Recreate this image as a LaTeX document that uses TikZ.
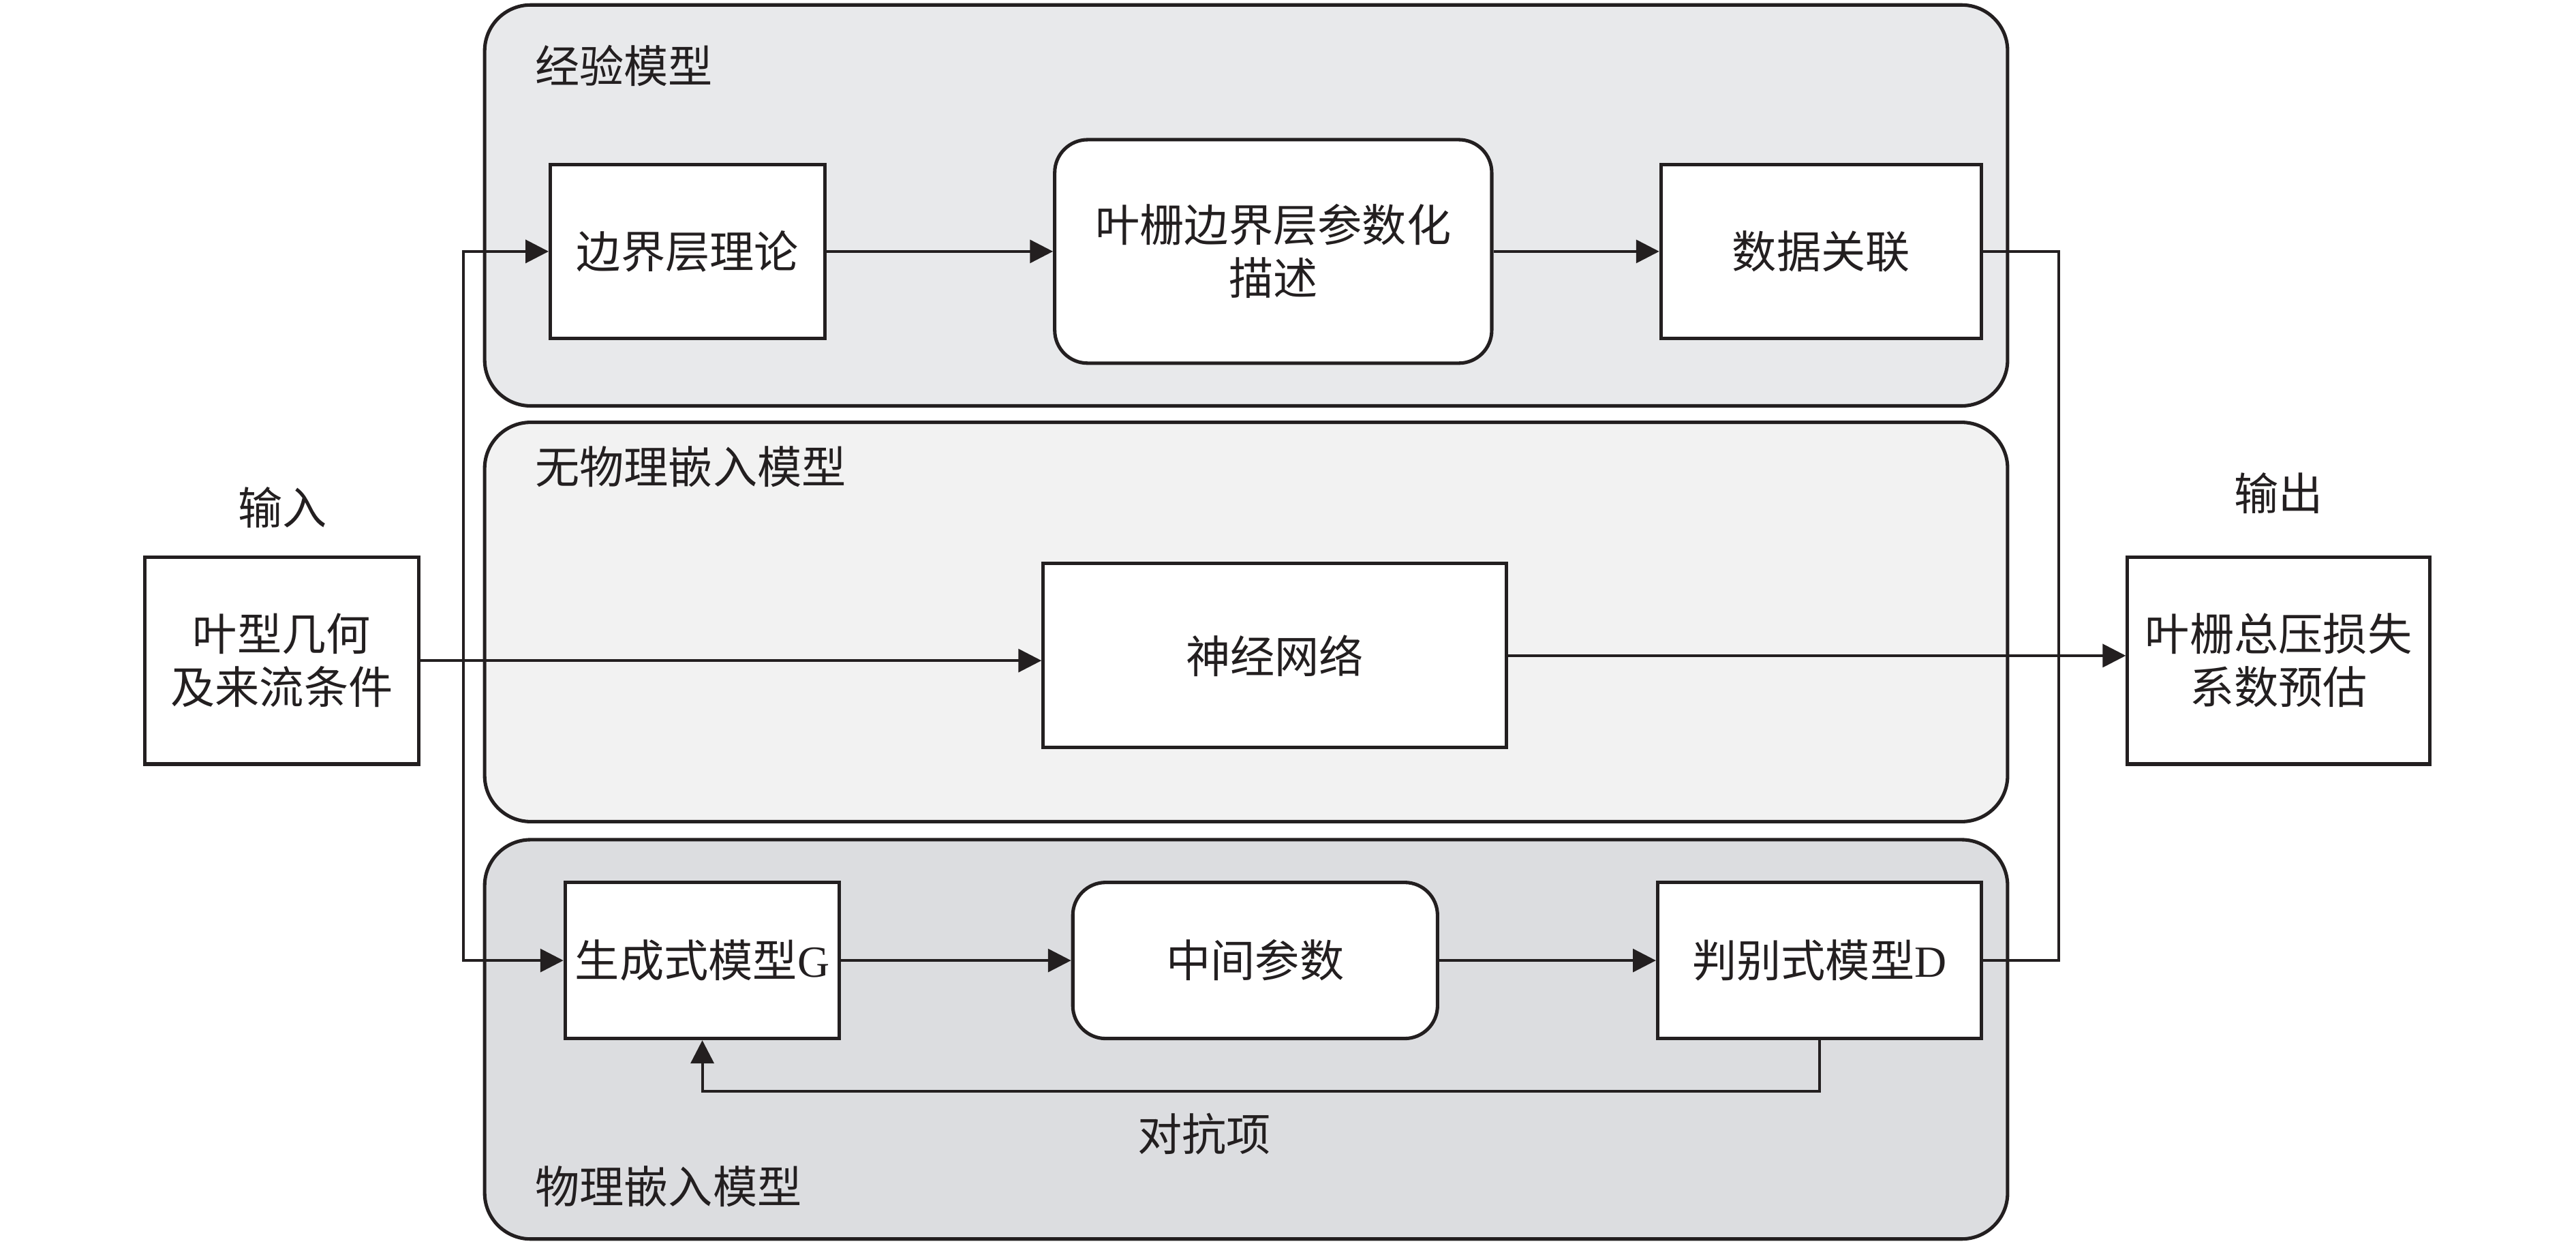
\documentclass[tikz,border=0pt]{standalone}
\usepackage{fontspec}
\setmainfont{Liberation Serif}
\newfontfamily\cjk{Noto Sans CJK SC}
\usetikzlibrary{arrows.meta}

\definecolor{linegray}{HTML}{231F20}
\definecolor{grpone}{HTML}{E8E9EB}
\definecolor{grptwo}{HTML}{F2F2F2}
\definecolor{grpthree}{HTML}{DCDDE0}

\tikzset{
    txt/.style={font=\cjk\fontsize{7.7}{9.2}\selectfont, text=linegray},
    box/.style={txt, draw=linegray, line width=0.6pt, fill=white, inner sep=0pt, align=center},
    rbox/.style={box, rounded corners=0.2cm},
    group/.style={draw=linegray, line width=0.6pt, rounded corners=0.28cm},
    grplabel/.style={txt, anchor=west, inner sep=0pt},
    flow/.style={draw=linegray, line width=0.45pt, -{Triangle[length=4pt, width=4pt]}},
    link/.style={draw=linegray, line width=0.45pt}
}

\begin{document}
\begin{tikzpicture}[x=1cm, y=-1cm]
    \useasboundingbox (0,0) rectangle (15.68,7.58);
    % Model groups
    \draw[group, fill=grpone] (2.95,0.03) rectangle (12.22,2.47);
    \draw[group, fill=grptwo] (2.95,2.57) rectangle (12.22,5.00);
    \draw[group, fill=grpthree] (2.95,5.11) rectangle (12.22,7.54);
    \node[grplabel] (lblemp) at (3.25,0.40) {经验模型};
    \node[grplabel] (lblfree) at (3.25,2.84) {无物理嵌入模型};
    \node[grplabel] (lblphys) at (3.25,7.22) {物理嵌入模型};
    % Input and output
    \node[box, minimum width=1.67cm, minimum height=1.26cm] (in) at (1.715,4.02) {叶型几何\\及来流条件};
    \node[txt] (lblin) at (1.72,3.09) {输入};
    \node[box, minimum width=1.84cm, minimum height=1.26cm] (out) at (13.87,4.02) {叶栅总压损失\\系数预估};
    \node[txt] (lblout) at (13.87,3.00) {输出};
    % Empirical model
    \node[box, minimum width=1.67cm, minimum height=1.06cm] (bl) at (4.185,1.53) {边界层理论};
    \node[rbox, minimum width=2.66cm, minimum height=1.36cm] (para) at (7.75,1.53) {叶栅边界层参数化\\描述};
    \node[box, minimum width=1.95cm, minimum height=1.06cm] (data) at (11.085,1.53) {数据关联};
    % Model without physics
    \node[box, minimum width=2.82cm, minimum height=1.12cm] (nn) at (7.76,3.99) {神经网络};
    % Physics embedded model
    \node[box, minimum width=1.67cm, minimum height=0.95cm] (gen) at (4.275,5.845) {生成式模型{\rmfamily G}};
    \node[rbox, minimum width=2.22cm, minimum height=0.95cm] (mid) at (7.64,5.845) {中间参数};
    \node[box, minimum width=1.97cm, minimum height=0.95cm] (dis) at (11.075,5.845) {判别式模型{\rmfamily D}};
    \node[txt] (lbladv) at (7.33,6.90) {对抗项};
    % Connectors
    \coordinate (split) at (2.82,4.02);
    \coordinate (merge) at (12.53,3.99);
    \draw[flow] (in.east) -- (in.east -| nn.west);
    \draw[flow] (split) |- (bl.west);
    \draw[flow] (split) |- (gen.west);
    \draw[flow] (bl) -- (para);
    \draw[flow] (para) -- (data);
    \draw[flow] (gen) -- (mid);
    \draw[flow] (mid) -- (dis);
    \draw[link] (data.east) -| (merge) |- (dis.east);
    \draw[flow] (nn.east) -- (nn.east -| out.west);
    \draw[flow] (dis.south) -- ++(0,0.31) -| (gen.south);
\end{tikzpicture}
\end{document}
